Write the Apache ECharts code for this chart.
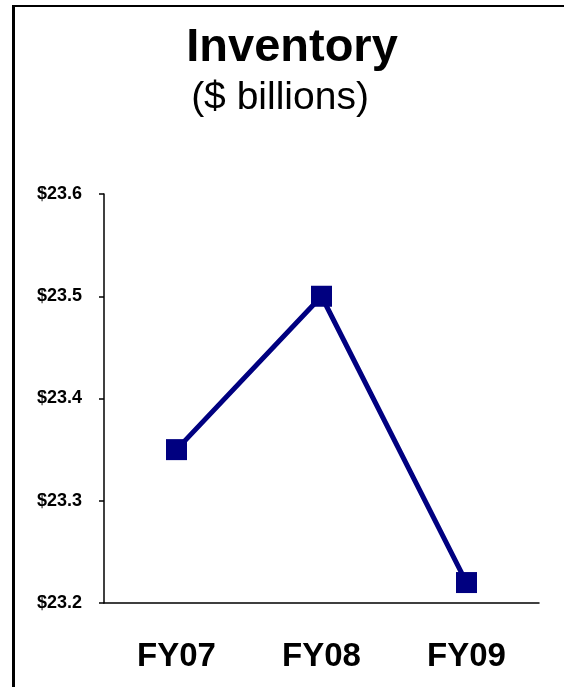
<!DOCTYPE html>
<html>
<head>
<meta charset="utf-8">
<script src="https://cdn.jsdelivr.net/npm/echarts@6/dist/echarts.min.js"></script>
<style>
  html, body { margin: 0; padding: 0; background: #fff; }
  #wrap { position: relative; width: 564px; height: 687px; overflow: hidden; }
  #frame { position: absolute; left: 12px; top: 5px; width: 600px; height: 720px; border-top: 2px solid #000; border-left: 3px solid #000; box-sizing: border-box; }
  #chart { position: absolute; left: 0; top: 0; width: 564px; height: 687px; }
</style>
</head>
<body>
<div id="wrap">
  <div id="frame"></div>
  <div id="chart"></div>
</div>
<script>
// values
const years = ['FY07', 'FY08', 'FY09'];
const inventory = [23.35, 23.50, 23.22];
const yMin = 23.2;
const yMax = 23.6;
const yStep = 0.1;

const font = "'Liberation Sans', Arial, sans-serif";

const chart = echarts.init(document.getElementById('chart'), null, { renderer: 'canvas' });
chart.setOption({
  animation: false,
  backgroundColor: 'transparent',
  graphic: [
    {
      type: 'text', x: 292, y: 48,
      style: { text: 'Inventory', font: `bold 47px ${font}`, fill: '#000', align: 'center', verticalAlign: 'middle' }
    },
    {
      type: 'text', x: 280, y: 98,
      style: { text: '($ billions)', font: `39px ${font}`, fill: '#000', align: 'center', verticalAlign: 'middle' }
    }
  ],
  grid: { left: 104, right: 25, top: 194, bottom: 84, containLabel: false },
  xAxis: {
    type: 'category',
    data: years,
    boundaryGap: true,
    axisLine: { show: true, lineStyle: { color: '#000', width: 1.5 } },
    axisTick: { show: false },
    axisLabel: { color: '#000', fontFamily: font, fontWeight: 'bold', fontSize: 33, margin: 37 }
  },
  yAxis: {
    type: 'value',
    min: yMin,
    max: yMax,
    interval: yStep,
    splitLine: { show: false },
    axisLine: { show: true, lineStyle: { color: '#000', width: 1.5 } },
    axisTick: { show: true, length: 5, lineStyle: { color: '#000', width: 1.5 } },
    axisLabel: {
      color: '#000', fontFamily: font, fontWeight: 'bold', fontSize: 18, margin: 22,
      formatter: v => '$' + v.toFixed(1)
    }
  },
  series: [{
    type: 'line',
    data: inventory,
    symbol: 'rect',
    symbolSize: 21,
    lineStyle: { color: '#000080', width: 5 },
    itemStyle: { color: '#000080' }
  }]
});
</script>
</body>
</html>
